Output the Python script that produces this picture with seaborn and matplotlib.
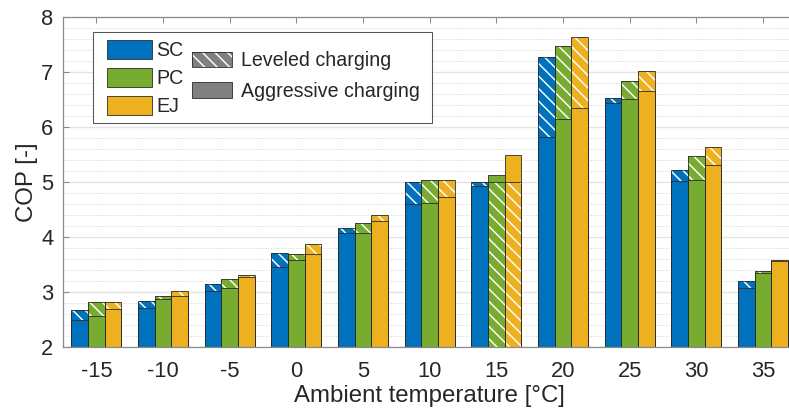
import matplotlib
matplotlib.use("Agg")
import matplotlib.pyplot as plt
from matplotlib.patches import Patch, Rectangle
from matplotlib.ticker import MultipleLocator
import pandas as pd
import seaborn as sns

# Ambient temperatures [°C] and systems
temperatures = [-15, -10, -5, 0, 5, 10, 15, 20, 25, 30, 35]
systems = ["SC", "PC", "EJ"]

# COP with leveled and aggressive charging, per system
cop_leveled_sc = [2.68, 2.85, 3.15, 3.71, 4.17, 5.01, 5.01, 7.27, 6.53, 5.23, 3.21]
cop_aggressive_sc = [2.49, 2.72, 3.02, 3.46, 4.07, 4.60, 4.94, 5.82, 6.44, 5.02, 3.07]
cop_leveled_pc = [2.83, 2.94, 3.25, 3.69, 4.26, 5.04, 5.01, 7.48, 6.84, 5.47, 3.38]
cop_aggressive_pc = [2.57, 2.87, 3.07, 3.59, 4.08, 4.62, 5.13, 6.15, 6.52, 5.05, 3.35]
cop_leveled_ej = [2.83, 3.02, 3.31, 3.87, 4.40, 5.04, 5.00, 7.65, 7.02, 5.65, 3.59]
cop_aggressive_ej = [2.70, 2.94, 3.27, 3.70, 4.29, 4.74, 5.49, 6.35, 6.66, 5.31, 3.57]

colors = ["#0072BD", "#77AC30", "#EDB120"]
edge = "#2b2b2b"
text_col = "#262626"
axis_col = "#8a8a8a"
hatch_style = "\\\\"

rows = []
for name, lev, agg in zip(systems,
                          [cop_leveled_sc, cop_leveled_pc, cop_leveled_ej],
                          [cop_aggressive_sc, cop_aggressive_pc, cop_aggressive_ej]):
    for t, l, a in zip(temperatures, lev, agg):
        rows.append({"temp": t, "system": name, "leveled": l, "aggressive": a})
df = pd.DataFrame(rows)
df["upper"] = df[["leveled", "aggressive"]].max(axis=1)
df["lower"] = df[["leveled", "aggressive"]].min(axis=1)

sns.set_theme(style="white")
plt.rcParams["font.family"] = ["Liberation Sans", "DejaVu Sans"]
plt.rcParams["hatch.linewidth"] = 1.4

DPI = 75
fig = plt.figure(figsize=(789 / DPI, 412 / DPI), dpi=DPI)
ax = fig.add_axes([63 / 789, 64.7 / 412, 733.3 / 789, 330 / 412])

common = dict(data=df, x="temp", hue="system", order=temperatures,
              hue_order=systems, palette=colors, width=0.75, saturation=1,
              errorbar=None, legend=False, ax=ax)

sns.barplot(y="upper", **common)
n_upper = len(ax.containers)
sns.barplot(y="lower", **common)


def style_bar(bar, hatched):
    if hatched:
        bar.set_hatch(hatch_style)
        bar.set_edgecolor("white")
        bar.set_linewidth(0)
        ax.add_patch(Rectangle((bar.get_x(), bar.get_y()), bar.get_width(),
                               bar.get_height(), fill=False, edgecolor=edge,
                               linewidth=0.8, zorder=bar.get_zorder() + 0.2))
    else:
        bar.set_edgecolor(edge)
        bar.set_linewidth(0.8)


for ci, container in enumerate(ax.containers):
    system = systems[ci % 3]
    is_upper = ci < n_upper
    for bar in container:
        idx = int(round(bar.get_x() + bar.get_width() / 2))
        row = df[(df.system == system) & (df.temp == temperatures[idx])].iloc[0]
        leveled_on_top = row.leveled >= row.aggressive
        hatched = leveled_on_top if is_upper else not leveled_on_top
        style_bar(bar, hatched)

ax.set_xlim(-0.5, 10.5)
ax.set_ylim(2, 8)
ax.set_yticks(range(2, 9))
ax.yaxis.set_minor_locator(MultipleLocator(0.2))
ax.set_xticks(range(len(temperatures)))
ax.set_xticklabels([str(t) for t in temperatures])

ax.set_axisbelow(True)
ax.grid(which="major", axis="y", color="#e3e3e3", linewidth=1.3, linestyle="-")
ax.grid(which="minor", axis="y", color="#c4c4c4", linewidth=0.8, linestyle=(0, (1, 2)))
ax.grid(which="both", axis="x", visible=False)

for side in ["left", "bottom", "top", "right"]:
    ax.spines[side].set_visible(True)
    ax.spines[side].set_color(axis_col)
    ax.spines[side].set_linewidth(1.2)

ax.tick_params(which="major", direction="in", length=6, width=1.0,
               color=axis_col, top=True, right=True, bottom=True, left=True,
               labelcolor=text_col, labelsize=21)
ax.tick_params(axis="x", pad=13)
ax.tick_params(axis="y", pad=9)
ax.tick_params(which="minor", length=0)

ax.set_xlabel("Ambient temperature [°C]", fontsize=23, color=text_col)
ax.set_ylabel("COP [-]", fontsize=23, color=text_col)
ax.xaxis.set_label_coords(0.5, -0.113)
ax.yaxis.set_label_coords(-0.034, 0.5)

# Legend: systems (colour) and charging strategy (hatch)
sys_handles = [Patch(facecolor=c, edgecolor=edge, linewidth=0.8) for c in colors]
leg1 = ax.legend(sys_handles, systems, loc="upper left",
                 bbox_to_anchor=(0.060, 0.931), frameon=False, fontsize=18.8,
                 handlelength=2.3, handleheight=1.08, labelspacing=0.42,
                 handletextpad=0.2, borderpad=0, borderaxespad=0,
                 labelcolor=text_col)
ax.add_artist(leg1)

grey = "#808080"
leveled_handle = (Patch(facecolor=grey, edgecolor="white", hatch=hatch_style, linewidth=0),
                  Patch(fill=False, edgecolor=edge, linewidth=0.8))
aggressive_handle = Patch(facecolor=grey, edgecolor=edge, linewidth=0.8)
leg2 = ax.legend([leveled_handle, aggressive_handle],
                 ["Leveled charging", "Aggressive charging"],
                 loc="upper left", bbox_to_anchor=(0.176, 0.897), frameon=False,
                 fontsize=18.8, handlelength=2.05, handleheight=0.87,
                 labelspacing=0.6, handletextpad=0.45, borderpad=0,
                 borderaxespad=0, labelcolor=text_col)
leg2.set_zorder(6)
leg1.set_zorder(6)

ax.add_patch(Rectangle((0.041, 0.679), 0.462, 0.276, transform=ax.transAxes,
                       facecolor="white", edgecolor="#555555", linewidth=1.0,
                       zorder=5))

fig.savefig("out.png", dpi=DPI)
